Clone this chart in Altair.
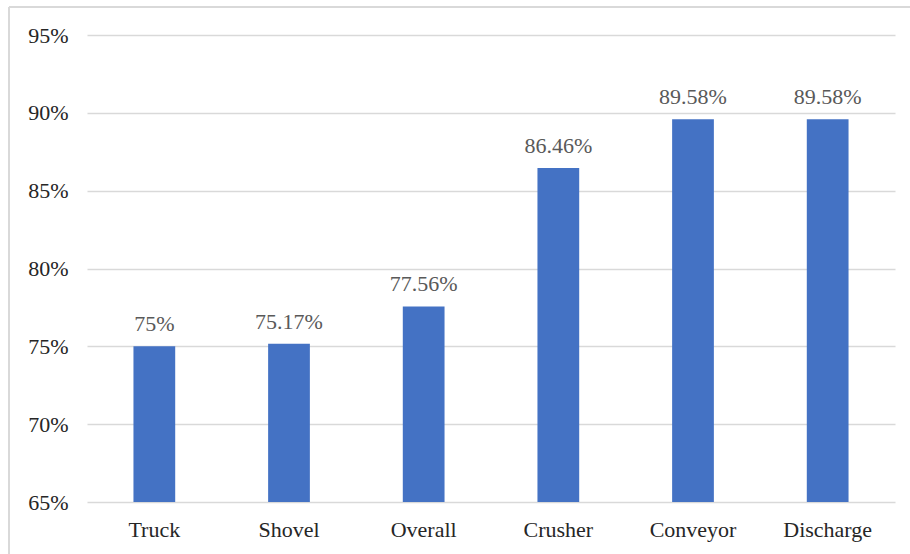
import altair as alt
import pandas as pd

categories = ["Truck", "Shovel", "Overall", "Crusher", "Conveyor", "Discharge"]
values = [75.0, 75.17, 77.56, 86.46, 89.58, 89.58]
value_labels = ["75%", "75.17%", "77.56%", "86.46%", "89.58%", "89.58%"]
y_ticks = [65, 70, 75, 80, 85, 90, 95]

df = pd.DataFrame({"category": categories, "value": values, "label": value_labels})

FONT = "Times New Roman, Liberation Serif, serif"
BAR = "#4472C4"
GRID = "#d9d9d9"

x_enc = alt.X(
    "category:N",
    sort=categories,
    title=None,
    scale=alt.Scale(paddingInner=0.69, paddingOuter=0.345),
    axis=alt.Axis(
        labelAngle=0,
        labelFont=FONT,
        labelFontSize=22,
        labelColor="#262626",
        labelPadding=17,
        ticks=False,
        domain=False,
        grid=False,
    ),
)

y_scale = alt.Scale(domain=[65, 95], zero=False, nice=False)

bars = alt.Chart(df).mark_bar(color=BAR).encode(
    x=x_enc,
    y=alt.Y(
        "value:Q",
        scale=y_scale,
        title=None,
        axis=alt.Axis(
            values=y_ticks,
            labelExpr="datum.value + '%'",
            labelFont=FONT,
            labelFontSize=22,
            labelColor="#262626",
            labelPadding=19,
            ticks=False,
            domain=False,
            grid=True,
            gridColor=GRID,
            gridWidth=1.5,
        ),
    ),
    y2=alt.datum(65),
)

text = alt.Chart(df).mark_text(
    font=FONT, fontSize=22, color="#595959", baseline="alphabetic", dy=-15
).encode(
    x=alt.X("category:N", sort=categories),
    y=alt.Y("value:Q", scale=y_scale),
    text="label:N",
)

# light frame around the whole figure (top and left edges; the others fall outside)
frame_top = alt.Chart(df).mark_rule(color=GRID, strokeWidth=2).encode(
    x=alt.value(-78), x2=alt.value(830), y=alt.value(-28)
)
frame_left = alt.Chart(df).mark_rule(color=GRID, strokeWidth=2).encode(
    x=alt.value(-78), y=alt.value(-28), y2=alt.value(530)
)

chart = (
    alt.layer(frame_top, frame_left, bars, text)
    .properties(
        width=808,
        height=467,
        autosize=alt.AutoSizeParams(type="none"),
        padding={"left": 87, "top": 35, "right": 15, "bottom": 52},
        view=alt.ViewBackground(stroke="transparent", strokeWidth=0),
    )
    .configure_view(strokeWidth=0, stroke="transparent")
    .configure_axisX(grid=False)
    .configure_axisBand(grid=False)
    .configure(background="white")
)

chart.save("out.html", embed_options={"renderer": "svg", "actions": False})
